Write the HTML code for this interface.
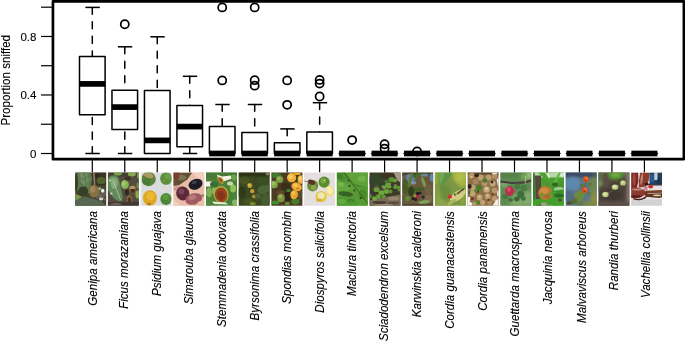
<!DOCTYPE html>
<html><head><meta charset="utf-8"><title>Proportion sniffed</title>
<style>html,body{margin:0;padding:0;background:#fff;}body{width:685px;height:341px;position:relative;overflow:hidden;font-family:"Liberation Sans",Arial,sans-serif}</style>
</head><body>
<svg width="685" height="341" viewBox="0 0 685 341" style="position:absolute;left:0;top:0">
<rect width="685" height="341" fill="#fff"/>
<defs><filter id="bl" x="-10%" y="-10%" width="120%" height="120%"><feGaussianBlur stdDeviation="0.55"/></filter><filter id="bb" x="-20%" y="-20%" width="140%" height="140%"><feGaussianBlur stdDeviation="1.5"/></filter>
<clipPath id="ic"><rect x="0" y="0" width="31.0" height="33.2"/></clipPath></defs>
<g transform="translate(75.20,172.5)" clip-path="url(#ic)"><rect x="-1" y="-1" width="33.0" height="35.2" fill="#46442c"/><g filter="url(#bl)"><path d="M2 0H15L17 6L14 20L8 25L2 18Z" fill="#5f7a50"/><path d="M4 0L12 0L14 8L11 17L6 10Z" fill="#6f8c62"/><path d="M9 0L12 20" stroke="#44603a" stroke-width="0.6" fill="none" stroke-linecap="round"/><path d="M5 5L10 8" stroke="#44603a" stroke-width="0.5" fill="none" stroke-linecap="round"/><path d="M5 11L11 14" stroke="#44603a" stroke-width="0.5" fill="none" stroke-linecap="round"/><path d="M14 3L10 6" stroke="#44603a" stroke-width="0.5" fill="none" stroke-linecap="round"/><path d="M15 9L11 12" stroke="#44603a" stroke-width="0.5" fill="none" stroke-linecap="round"/><rect x="17" y="0" width="14" height="13" fill="#393623"/><ellipse cx="26" cy="8" rx="4.5" ry="3.5" fill="#55622f"/><ellipse cx="22" cy="3" rx="2" ry="2" fill="#2c2a1c"/><path d="M18.6 0L19.4 12" stroke="#8d7b6c" stroke-width="1.6" fill="none" stroke-linecap="round"/><ellipse cx="24.5" cy="21" rx="6.5" ry="5.5" fill="#5f5f50"/><ellipse cx="27.5" cy="18.2" rx="1.7" ry="1.9" fill="#eef2ee"/><ellipse cx="24.3" cy="16" rx="1.3" ry="1.3" fill="#b9c4b4"/><ellipse cx="26" cy="26.5" rx="2.2" ry="1.4" fill="#cfd6cc"/><ellipse cx="8" cy="19" rx="5" ry="5" fill="#364026"/><ellipse cx="1" cy="10" rx="1.6" ry="9" fill="#343c22"/><path d="M0 26L12 24.5L26 28.5L31 33.2H0Z" fill="#566651"/><path d="M0 21L7 24.5L0 28Z" fill="#7c9a48"/><ellipse cx="18.6" cy="18.6" rx="5.1" ry="6.3" fill="#8a6f40"/><ellipse cx="17.6" cy="17" rx="2.6" ry="3.2" fill="#a08656"/><path d="M22 21.5L30.5 27.5" stroke="#8a7864" stroke-width="1.0" fill="none" stroke-linecap="round"/><path d="M6 30L20 28" stroke="#6f806a" stroke-width="0.5" fill="none" stroke-linecap="round"/></g></g>
<g transform="translate(107.90,172.5)" clip-path="url(#ic)"><rect x="-1" y="-1" width="33.0" height="35.2" fill="#544c40"/><g filter="url(#bl)"><rect x="0" y="0" width="31" height="4" fill="#453f32"/><ellipse cx="10" cy="1" rx="4" ry="2" fill="#7aa04a"/><ellipse cx="24" cy="1.5" rx="4" ry="2.5" fill="#86a850"/><ellipse cx="30.5" cy="3" rx="1.5" ry="3" fill="#7ea04a"/><path d="M0 6C4 1 10 2 11.5 8C12.5 16 15.5 22 14.5 28C10 31 4 25 0 17Z" fill="#63895a"/><path d="M2 7C5 3.5 9 5 10 9C10 14 8 17 4 16Z" fill="#86aa7a"/><path d="M5 8L12.5 27" stroke="#b4cc9c" stroke-width="0.8" fill="none" stroke-linecap="round"/><ellipse cx="3.5" cy="21" rx="1.2" ry="1" fill="#c8d8c0"/><ellipse cx="2" cy="8" rx="0.8" ry="0.8" fill="#dfe8d8"/><ellipse cx="17" cy="12" rx="4" ry="4.6" fill="#84b254"/><ellipse cx="16" cy="11" rx="2" ry="2.5" fill="#a3c96e"/><ellipse cx="25" cy="17" rx="3.6" ry="4.6" fill="#7d5a34"/><ellipse cx="25" cy="17.5" rx="2" ry="3" fill="#4a2e1c"/><ellipse cx="24.5" cy="15" rx="3" ry="1.5" fill="#b39a6a"/><ellipse cx="21.5" cy="27" rx="3" ry="4.2" fill="#806038"/><ellipse cx="21.5" cy="27.5" rx="1.6" ry="2.6" fill="#4e321e"/><ellipse cx="30" cy="22" rx="2.5" ry="4" fill="#86ac52"/><ellipse cx="30" cy="13" rx="1.5" ry="3" fill="#6f8a48"/><rect x="0" y="29.5" width="31" height="3.7" fill="#3f3830"/><ellipse cx="8" cy="31.5" rx="6" ry="1.2" fill="#6a6258"/><ellipse cx="19" cy="20" rx="2" ry="3" fill="#2e2822"/><ellipse cx="20" cy="6" rx="3" ry="2" fill="#3a3428"/></g></g>
<g transform="translate(140.60,172.5)" clip-path="url(#ic)"><rect x="-1" y="-1" width="33.0" height="35.2" fill="#dadbdd"/><g filter="url(#bl)"><ellipse cx="8" cy="6.5" rx="7.2" ry="7.2" fill="#5a8438"/><ellipse cx="6" cy="9" rx="4" ry="3.5" fill="#4c7c34"/><path d="M2.5 2.5C6 -1 12.5 -0.5 13 4.5C10 7 6 5.5 2.5 2.5Z" fill="#ae9866"/><ellipse cx="25.5" cy="6" rx="6" ry="6.3" fill="#5a903c"/><ellipse cx="27" cy="4" rx="3" ry="3" fill="#6a9e48"/><ellipse cx="23.5" cy="8.5" rx="0.9" ry="0.9" fill="#b08850"/><ellipse cx="9.3" cy="25.5" rx="7" ry="7.8" fill="#dfa722"/><ellipse cx="10" cy="23.5" rx="4" ry="4" fill="#ecb830"/><ellipse cx="8.5" cy="31.5" rx="2" ry="1" fill="#a87428"/><ellipse cx="25.4" cy="26.5" rx="5.7" ry="6" fill="#4c8836"/><ellipse cx="25" cy="24.5" rx="3" ry="3" fill="#5c9a42"/><ellipse cx="28" cy="27.5" rx="0.7" ry="0.7" fill="#b07840"/><rect x="0" y="0" width="1" height="33.2" fill="#e8e8ea"/></g></g>
<g transform="translate(173.30,172.5)" clip-path="url(#ic)"><rect x="-1" y="-1" width="33.0" height="35.2" fill="#e9bea8"/><g filter="url(#bl)"><path d="M0 0H19L14 7L6 12.5L0 13.5Z" fill="#5e4e34"/><ellipse cx="8" cy="5" rx="5" ry="3" fill="#7d6f50"/><ellipse cx="3" cy="3" rx="3" ry="4" fill="#7a3a30"/><path d="M19 0H31V13L24 6Z" fill="#f2cfbe"/><ellipse cx="6" cy="16" rx="6" ry="3" fill="#d29a88"/><ellipse cx="22.3" cy="11.8" rx="7.2" ry="5.2" fill="#1c1b24" transform="rotate(-20 22.3 11.8)"/><ellipse cx="21" cy="10" rx="3" ry="1.5" fill="#3d3d50" transform="rotate(-20 21 10)"/><ellipse cx="9.5" cy="21" rx="6.6" ry="7" fill="#5a2b3a" transform="rotate(-20 9.5 21)"/><ellipse cx="8" cy="19" rx="3" ry="3" fill="#7a4456"/><ellipse cx="20.5" cy="26.5" rx="8.6" ry="5.6" fill="#a25a62" transform="rotate(-15 20.5 26.5)"/><ellipse cx="19" cy="25" rx="4" ry="2.5" fill="#b87880" transform="rotate(-15 19 25)"/><ellipse cx="29.5" cy="23" rx="1" ry="1.5" fill="#6a8a40"/><path d="M0 27L8 33.2H0Z" fill="#f2d0c0"/><ellipse cx="28" cy="31" rx="4" ry="2.5" fill="#e9bfa8"/></g></g>
<g transform="translate(206.00,172.5)" clip-path="url(#ic)"><rect x="-1" y="-1" width="33.0" height="35.2" fill="#4f8036"/><g filter="url(#bl)"><rect x="0" y="0" width="31" height="6" fill="#467a38"/><path d="M0 9H6L5 14H0Z" fill="#f2f4ee"/><path d="M11 2L16 4L25 3L26 6L20 8L17 9L12 6Z" fill="#f4f3ee"/><ellipse cx="3" cy="20" rx="3" ry="5" fill="#7fb058"/><ellipse cx="27" cy="16" rx="3" ry="4" fill="#92c058"/><ellipse cx="28" cy="5" rx="3" ry="3" fill="#6aa448"/><ellipse cx="24" cy="11" rx="3" ry="2" fill="#c8dcb8"/><ellipse cx="8" cy="18" rx="2" ry="4" fill="#86b860"/><ellipse cx="8" cy="12" rx="4" ry="3" fill="#3a6e30"/><ellipse cx="23" cy="25" rx="4.5" ry="6" fill="#44803a"/><path d="M11 4C12 8 14 11 17 11.5C18 9 18 7 16 5Z" fill="#b8b040"/><path d="M12 5C13 8 15 10 16.6 10.6C17 9 16.5 7.5 15 6Z" fill="#a8401c"/><ellipse cx="15.2" cy="22" rx="7.4" ry="8.6" fill="#a8b23c" transform="rotate(-15 15.2 22)"/><ellipse cx="15.2" cy="22.3" rx="6.2" ry="7.4" fill="#9c421e" transform="rotate(-15 15.2 22.3)"/><ellipse cx="15" cy="23" rx="3.5" ry="4.5" fill="#86341a" transform="rotate(-15 15 23)"/><path d="M6 29L20 30L22 32L8 31.5Z" fill="#dfe8d2"/><rect x="0" y="26" width="4" height="7" fill="#4c8a3c"/><ellipse cx="29" cy="30" rx="3" ry="3" fill="#8ab868"/></g></g>
<g transform="translate(238.70,172.5)" clip-path="url(#ic)"><rect x="-1" y="-1" width="33.0" height="35.2" fill="#3a4820"/><g filter="url(#bl)"><rect x="0" y="0" width="31" height="4" fill="#2f3618"/><ellipse cx="6" cy="8" rx="5" ry="4" fill="#4a5624"/><ellipse cx="3" cy="20" rx="4" ry="6" fill="#2e3a18"/><ellipse cx="25" cy="17" rx="6.5" ry="4.5" fill="#4c6436" transform="rotate(-25 25 17)"/><ellipse cx="24" cy="9" rx="6" ry="4" fill="#3b4f28" transform="rotate(10 24 9)"/><ellipse cx="27" cy="27" rx="5" ry="6" fill="#445c2f" transform="rotate(30 27 27)"/><ellipse cx="18" cy="24" rx="4" ry="3" fill="#4c6238"/><ellipse cx="10" cy="29" rx="5" ry="3" fill="#48541e"/><ellipse cx="14" cy="31" rx="3" ry="1.5" fill="#7a8a28"/><path d="M12 6L19 30" stroke="#5a4a2c" stroke-width="0.8" fill="none" stroke-linecap="round"/><ellipse cx="11" cy="13" rx="2.4" ry="2.5" fill="#c9a233"/><ellipse cx="10.5" cy="12.3" rx="1.1" ry="1.1" fill="#e0c050"/><ellipse cx="13.5" cy="18.7" rx="2.1" ry="2.1" fill="#c39c30"/><ellipse cx="15" cy="24" rx="1.8" ry="1.7" fill="#a89030"/><ellipse cx="29" cy="1.5" rx="2" ry="1.5" fill="#8a7a60"/></g></g>
<g transform="translate(271.40,172.5)" clip-path="url(#ic)"><rect x="-1" y="-1" width="33.0" height="35.2" fill="#4a3c22"/><g filter="url(#bl)"><ellipse cx="5" cy="3" rx="5" ry="2.5" fill="#3f7a2e"/><ellipse cx="14" cy="14" rx="5" ry="4" fill="#3a2e1c"/><ellipse cx="16" cy="24" rx="4" ry="5" fill="#2e2618"/><ellipse cx="4" cy="30" rx="4" ry="2" fill="#3f8a30"/><ellipse cx="24" cy="29" rx="4" ry="3" fill="#4a7a2c"/><ellipse cx="17" cy="18" rx="2" ry="1.5" fill="#3c8a34"/><ellipse cx="9" cy="20" rx="4" ry="2" fill="#5e4a2c"/><ellipse cx="28" cy="22" rx="3" ry="5" fill="#5a4a30"/><ellipse cx="8.2" cy="7" rx="3.6" ry="3.6" fill="#7c9c44"/><ellipse cx="7.5" cy="6" rx="1.8" ry="1.8" fill="#98b45c"/><ellipse cx="2.6" cy="12" rx="3.8" ry="3.8" fill="#7ea646"/><ellipse cx="2" cy="11" rx="2" ry="2" fill="#9ac060"/><ellipse cx="9.6" cy="25.5" rx="3.8" ry="4.2" fill="#7a9240"/><ellipse cx="9" cy="24" rx="1.8" ry="2" fill="#9aae58"/><ellipse cx="16" cy="31" rx="2.5" ry="1.8" fill="#6a8a38"/><ellipse cx="26" cy="0.5" rx="3.5" ry="2" fill="#e9a92c"/><ellipse cx="20.2" cy="5.2" rx="4.6" ry="4.6" fill="#efb03a"/><ellipse cx="19.2" cy="4.2" rx="2.2" ry="2.2" fill="#f8cc60"/><ellipse cx="29.5" cy="7" rx="3.2" ry="4.2" fill="#f0b640"/><ellipse cx="29" cy="6" rx="1.5" ry="2" fill="#f8d878"/><ellipse cx="25.3" cy="14.2" rx="5.4" ry="4.2" fill="#eea932" transform="rotate(25 25.3 14.2)"/><ellipse cx="24" cy="13" rx="2.5" ry="1.8" fill="#f6c456" transform="rotate(25 24 13)"/><ellipse cx="26" cy="16" rx="1.2" ry="0.8" fill="#b86820"/><ellipse cx="22.7" cy="22.2" rx="3.8" ry="4.6" fill="#eaa82e" transform="rotate(10 22.7 22.2)"/><ellipse cx="22" cy="20.6" rx="1.8" ry="2" fill="#f4c250"/></g></g>
<g transform="translate(304.10,172.5)" clip-path="url(#ic)"><rect x="-1" y="-1" width="33.0" height="35.2" fill="#e3dfde"/><g filter="url(#bl)"><ellipse cx="20" cy="9.6" rx="5.6" ry="5.6" fill="#5a8a2c"/><ellipse cx="19" cy="8.2" rx="2.8" ry="2.8" fill="#74a440"/><ellipse cx="20.5" cy="8" rx="0.7" ry="0.7" fill="#dfeacc"/><ellipse cx="8.6" cy="13.2" rx="5.6" ry="5.7" fill="#6c8c3a" transform="rotate(20 8.6 13.2)"/><ellipse cx="7.4" cy="9.8" rx="3.8" ry="2.4" fill="#5a3222" transform="rotate(20 7.4 9.8)"/><ellipse cx="9.4" cy="15" rx="2.6" ry="2.6" fill="#86a64e"/><path d="M0.5 8.5L4 9.5" stroke="#4a3a2c" stroke-width="0.6" fill="none" stroke-linecap="round"/><ellipse cx="17" cy="24" rx="5.6" ry="5.6" fill="#e4c640"/><ellipse cx="17" cy="23.2" rx="3.6" ry="3.4" fill="#f0e6b4"/><ellipse cx="25.8" cy="18.6" rx="4.4" ry="5.4" fill="#eedc84" transform="rotate(-15 25.8 18.6)"/><ellipse cx="25.6" cy="18" rx="2.8" ry="3.6" fill="#f6eeb8" transform="rotate(-15 25.6 18)"/><ellipse cx="15" cy="27.5" rx="3" ry="1.5" fill="#d8b030"/></g></g>
<g transform="translate(336.80,172.5)" clip-path="url(#ic)"><rect x="-1" y="-1" width="33.0" height="35.2" fill="#5a9a36"/><g filter="url(#bl)"><path d="M0 0H9L16 10L6 9L0 5Z" fill="#4e8e32"/><path d="M10 0H31V14L22 12L15 8Z" fill="#5ea23a"/><path d="M31 14V33.2H24L20 22L22 13Z" fill="#549a32"/><path d="M0 8L8 10L16 16L8 20L0 18Z" fill="#62a63c"/><ellipse cx="9" cy="21.5" rx="7.5" ry="2.6" fill="#356428" transform="rotate(8 9 21.5)"/><path d="M0 24L10 24L20 28L22 33.2H0Z" fill="#519a30"/><ellipse cx="25" cy="6" rx="4" ry="3" fill="#70b448"/><ellipse cx="4" cy="12" rx="3" ry="2" fill="#76b84c"/><ellipse cx="5" cy="29" rx="4" ry="2.5" fill="#64aa3c"/><ellipse cx="26" cy="22" rx="4" ry="5" fill="#468a2c"/><ellipse cx="3" cy="4" rx="3" ry="3" fill="#3f8228"/><ellipse cx="14" cy="28" rx="4" ry="2" fill="#448a2a"/><path d="M7 0L31 31" stroke="#3c5c22" stroke-width="0.9" fill="none" stroke-linecap="round"/><path d="M16 12L24 14" stroke="#3a6a26" stroke-width="0.6" fill="none" stroke-linecap="round"/><ellipse cx="12.5" cy="13.5" rx="0.9" ry="0.9" fill="#2c3a1c"/><ellipse cx="17.6" cy="18" rx="1" ry="1" fill="#2c3a1c"/><ellipse cx="18" cy="21.5" rx="1.2" ry="1.2" fill="#6a8a3a"/><ellipse cx="24" cy="25.5" rx="1.1" ry="1.1" fill="#2c3a1c"/><ellipse cx="12" cy="8" rx="0.8" ry="0.8" fill="#2c3a1c"/></g></g>
<g transform="translate(369.50,172.5)" clip-path="url(#ic)"><rect x="-1" y="-1" width="33.0" height="35.2" fill="#3b3c22"/><g filter="url(#bl)"><ellipse cx="8" cy="8" rx="9" ry="7" fill="#34452a"/><ellipse cx="18" cy="3" rx="8" ry="3" fill="#3a3420"/><path d="M24 0H31V10L28 8Z" fill="#a89686"/><path d="M0 28L8 26L20 24L31 22V33.2H0Z" fill="#7a6a58"/><ellipse cx="24" cy="26" rx="6" ry="2" fill="#95836e"/><ellipse cx="10" cy="30" rx="7" ry="1.6" fill="#4c3e30"/><ellipse cx="24" cy="30.5" rx="6" ry="1.5" fill="#5a4a3c"/><ellipse cx="14" cy="32.5" rx="10" ry="1" fill="#9a8a78"/><ellipse cx="22" cy="7" rx="3" ry="2.6" fill="#5c9034"/><ellipse cx="25.5" cy="8" rx="2" ry="2" fill="#6aa03c"/><ellipse cx="17" cy="9" rx="2" ry="1.6" fill="#4e7a30"/><ellipse cx="19" cy="13" rx="3.5" ry="3" fill="#69a03a"/><ellipse cx="14" cy="15" rx="2.5" ry="2.2" fill="#6aa23e"/><ellipse cx="26" cy="14" rx="2.5" ry="2.5" fill="#629a38"/><ellipse cx="29.5" cy="16" rx="1.5" ry="3" fill="#5c9436"/><ellipse cx="7" cy="17" rx="3" ry="2.6" fill="#6a9c3c"/><ellipse cx="12" cy="20" rx="3" ry="2.6" fill="#70a840"/><ellipse cx="17" cy="19" rx="2.6" ry="2.4" fill="#6aa23c"/><ellipse cx="21" cy="19" rx="2" ry="2" fill="#5a9034"/><ellipse cx="5" cy="26" rx="2.5" ry="2.2" fill="#6ea63e"/><ellipse cx="9" cy="24" rx="2.4" ry="2.2" fill="#68a03a"/><ellipse cx="14" cy="24" rx="2.2" ry="2" fill="#5e9636"/><ellipse cx="1" cy="23" rx="1.4" ry="2.6" fill="#5a9236"/><ellipse cx="23" cy="12.5" rx="1.9" ry="1.8" fill="#4c3440"/><ellipse cx="12" cy="16.5" rx="1.8" ry="1.7" fill="#523842"/><ellipse cx="2.5" cy="20.5" rx="2" ry="2" fill="#48323c"/><ellipse cx="26.5" cy="19" rx="2" ry="1.6" fill="#4a343c"/><ellipse cx="28.5" cy="12" rx="1.4" ry="1.4" fill="#4c363e"/><ellipse cx="7.5" cy="13.5" rx="2" ry="1.2" fill="#5a4a3c"/></g></g>
<g transform="translate(402.20,172.5)" clip-path="url(#ic)"><rect x="-1" y="-1" width="33.0" height="35.2" fill="#67583c"/><g filter="url(#bl)"><rect x="0" y="0" width="31" height="3" fill="#4a4630"/><ellipse cx="8" cy="6" rx="5" ry="4.5" fill="#6586aa"/><ellipse cx="11" cy="10" rx="3" ry="2" fill="#7a90a6"/><ellipse cx="29.5" cy="5" rx="2" ry="4" fill="#6284ae"/><ellipse cx="22" cy="2.5" rx="4" ry="1.5" fill="#6c84a0"/><path d="M2 4L14 9" stroke="#6a5a44" stroke-width="0.7" fill="none" stroke-linecap="round"/><path d="M4 10L12 3" stroke="#6a5a44" stroke-width="0.6" fill="none" stroke-linecap="round"/><ellipse cx="3" cy="14" rx="3" ry="8" fill="#4a5a2c"/><ellipse cx="2" cy="27" rx="3" ry="6" fill="#6a5a3e"/><path d="M5 14L9 0L11 0L8 14Z" fill="#587a30"/><path d="M10 3L20 0L22 1L12 6Z" fill="#4a6a26"/><ellipse cx="21.5" cy="10" rx="1.6" ry="5.5" fill="#7a9a50" transform="rotate(-20 21.5 10)"/><path d="M8 17C12 15 20 14 24 16C20 19 12 20 8 17Z" fill="#3f5e24"/><ellipse cx="9" cy="19" rx="3" ry="5" fill="#2e421c"/><ellipse cx="26" cy="17" rx="4" ry="5" fill="#6e5e44"/><ellipse cx="26" cy="26" rx="4" ry="4" fill="#7a6848"/><ellipse cx="5.5" cy="26" rx="2.5" ry="2.5" fill="#5a8a3a"/><ellipse cx="15.5" cy="21" rx="1.8" ry="1.8" fill="#2a1c22"/><ellipse cx="18" cy="20.5" rx="1.5" ry="1.5" fill="#30202a"/><ellipse cx="21" cy="24.5" rx="1.6" ry="1.6" fill="#2c2030"/><ellipse cx="11" cy="26" rx="1.6" ry="1.6" fill="#241a20"/><ellipse cx="13.5" cy="27" rx="1.6" ry="1.6" fill="#2a1e26"/><ellipse cx="12.5" cy="23" rx="1.4" ry="1.6" fill="#8a9a34"/><ellipse cx="15.3" cy="24" rx="1.4" ry="1.5" fill="#b42434"/><ellipse cx="22" cy="29.5" rx="6" ry="1.8" fill="#7e9e56" transform="rotate(-8 22 29.5)"/><rect x="0" y="31.5" width="31" height="1.7" fill="#4e4430"/></g></g>
<g transform="translate(434.90,172.5)" clip-path="url(#ic)"><rect x="-1" y="-1" width="33.0" height="35.2" fill="#7c9644"/><g filter="url(#bb)"><path d="M16 -2H33V13L26 15L19 8Z" fill="#a4b240"/><ellipse cx="25" cy="5" rx="4.5" ry="4.5" fill="#b2be48"/><ellipse cx="10" cy="20" rx="6" ry="8" fill="#6a8e3a"/><ellipse cx="3" cy="24" rx="3" ry="9" fill="#86a044"/><ellipse cx="28" cy="27" rx="3" ry="6" fill="#8aa23a"/><ellipse cx="6" cy="31" rx="6" ry="2" fill="#92a64a"/><path d="M-2 -2H3L4 10L-2 15Z" fill="#90a640"/><ellipse cx="5" cy="29" rx="5" ry="3" fill="#8ea648"/></g><g filter="url(#bl)"><path d="M3 0H18L15 5L13 6L12 9L9 11L8 14L6 16L4 10Z" fill="#5f9444"/><path d="M3.5 0L10 0L8 8L5 12Z" fill="#70a650"/><ellipse cx="23" cy="23" rx="9.2" ry="4.4" fill="#d0cc84" transform="rotate(-35 23 23)"/><ellipse cx="24" cy="20" rx="3" ry="1" fill="#5a5a2c" transform="rotate(-35 24 20)"/><ellipse cx="27.5" cy="17.5" rx="2.4" ry="0.8" fill="#4a4a24" transform="rotate(-30 27.5 17.5)"/><ellipse cx="20" cy="22" rx="1" ry="1.5" fill="#6a6a30"/><ellipse cx="15" cy="24" rx="2" ry="1.9" fill="#d6202e"/><ellipse cx="14.6" cy="23.5" rx="0.8" ry="0.7" fill="#ee5560"/><ellipse cx="17" cy="29.5" rx="5" ry="1.6" fill="#a8b45c" transform="rotate(-30 17 29.5)"/></g></g>
<g transform="translate(467.60,172.5)" clip-path="url(#ic)"><rect x="-1" y="-1" width="33.0" height="35.2" fill="#8e7048"/><g filter="url(#bl)"><rect x="0" y="0" width="31" height="2" fill="#5a4630"/><ellipse cx="4" cy="3" rx="2.9" ry="2.9" fill="#b29562"/><ellipse cx="13" cy="5" rx="2.9" ry="2.9" fill="#bda174"/><ellipse cx="21" cy="5" rx="2.9" ry="2.9" fill="#ba9c6d"/><ellipse cx="27" cy="4" rx="2.6" ry="2.4" fill="#ae9162"/><ellipse cx="8" cy="9" rx="2.7" ry="2.7" fill="#a78a5b"/><ellipse cx="17" cy="11" rx="2.7" ry="2.7" fill="#b49667"/><ellipse cx="25" cy="11" rx="2.9" ry="2.9" fill="#c3a779"/><ellipse cx="5" cy="15" rx="2.9" ry="2.9" fill="#bba172"/><ellipse cx="19" cy="17" rx="3.1" ry="3.1" fill="#c7ac7e"/><ellipse cx="27" cy="18" rx="2.7" ry="2.7" fill="#b49869"/><ellipse cx="5" cy="21" rx="2.9" ry="2.9" fill="#bfa575"/><ellipse cx="12" cy="25" rx="2.9" ry="2.9" fill="#bba070"/><ellipse cx="20" cy="24" rx="2.9" ry="2.9" fill="#ba9e6b"/><ellipse cx="27" cy="26" rx="2.7" ry="2.7" fill="#b89c6d"/><ellipse cx="15" cy="30" rx="2.6" ry="2.4" fill="#bfa372"/><ellipse cx="22" cy="30" rx="2.4" ry="2.2" fill="#ab8d59"/><ellipse cx="7" cy="31" rx="2.2" ry="2" fill="#b2956b"/><ellipse cx="4" cy="4.5" rx="1.1" ry="1.1" fill="#dcc8a0"/><ellipse cx="19" cy="16" rx="1.2" ry="1.2" fill="#e4d2ac"/><ellipse cx="12" cy="24" rx="1.1" ry="1.1" fill="#dccaa0"/><ellipse cx="25" cy="10" rx="1.1" ry="1.1" fill="#e0ceaa"/><ellipse cx="20" cy="23" rx="1" ry="1" fill="#e0ceaa"/><ellipse cx="9" cy="3" rx="2.4" ry="1.6" fill="#2a2018"/><ellipse cx="2" cy="14" rx="2" ry="2.4" fill="#2c241c"/><ellipse cx="24.5" cy="9.5" rx="1.4" ry="1.6" fill="#3a2a1c"/><ellipse cx="10" cy="19" rx="1.5" ry="1.2" fill="#4a3420"/><ellipse cx="4.5" cy="26" rx="2" ry="1.6" fill="#7a3424"/><ellipse cx="25" cy="22" rx="1.6" ry="1.4" fill="#8a4430"/><ellipse cx="21" cy="27.5" rx="1.4" ry="1.2" fill="#7a3a28"/><ellipse cx="17.3" cy="8" rx="2.2" ry="2.3" fill="#4a7a2a"/><ellipse cx="11.4" cy="15" rx="2.9" ry="2.9" fill="#4a7c2a"/><ellipse cx="8.5" cy="18.5" rx="1.8" ry="1.8" fill="#508430"/><ellipse cx="10.6" cy="30" rx="2" ry="2" fill="#4c802c"/><ellipse cx="1.5" cy="20" rx="1.2" ry="2" fill="#4a6a2a"/><path d="M0 24L3 25L2 29L5 31L4 33.2H0Z" fill="#f4f2ee"/><path d="M31 5L29 7L30.5 14L31 14Z" fill="#f4f2ee"/><path d="M28 28L31 26V33.2H25Z" fill="#f2eee8"/><ellipse cx="30.5" cy="21" rx="1" ry="3" fill="#efe9e0"/><ellipse cx="27" cy="1" rx="3" ry="1" fill="#e8e0d4"/></g></g>
<g transform="translate(500.30,172.5)" clip-path="url(#ic)"><rect x="-1" y="-1" width="33.0" height="35.2" fill="#5f8a52"/><g filter="url(#bb)"><rect x="0" y="0" width="31" height="5" fill="#557f46"/><ellipse cx="25" cy="4" rx="5" ry="3" fill="#78a85c"/><ellipse cx="29" cy="2" rx="2" ry="5" fill="#9cc484"/><ellipse cx="4" cy="12" rx="4" ry="3" fill="#7aa864"/><path d="M14 22L31 18V33.2H6Z" fill="#80aa6a"/><ellipse cx="5" cy="30" rx="6" ry="3" fill="#5f8c50"/></g><g filter="url(#bl)"><path d="M0 8L12 9.5L24 9L31 7V9L24 11L12 11.5L0 10Z" fill="#4a3a3a"/><path d="M25.5 4L25 11" stroke="#c8c8a0" stroke-width="0.7" fill="none" stroke-linecap="round"/><ellipse cx="17" cy="14" rx="3.2" ry="3" fill="#4a7c40"/><ellipse cx="23.5" cy="15.5" rx="3.2" ry="3.2" fill="#4c7e42"/><ellipse cx="20.5" cy="22" rx="3.6" ry="3.4" fill="#3f6e3a"/><ellipse cx="16.5" cy="26.5" rx="2.8" ry="2.4" fill="#3a6636"/><ellipse cx="23" cy="26" rx="2.6" ry="2.2" fill="#437240"/><ellipse cx="5" cy="24" rx="3" ry="2.5" fill="#467640"/><ellipse cx="10.5" cy="27.5" rx="2.4" ry="1.8" fill="#3e6a38"/><ellipse cx="14.6" cy="18.5" rx="1.3" ry="1.0" fill="#a8506a"/><ellipse cx="9.3" cy="18.5" rx="4.2" ry="5" fill="#c02a4a"/><ellipse cx="8.6" cy="17" rx="2" ry="2.4" fill="#d84c66"/></g></g>
<g transform="translate(533.00,172.5)" clip-path="url(#ic)"><rect x="-1" y="-1" width="33.0" height="35.2" fill="#4a9c30"/><g filter="url(#bl)"><rect x="0" y="0" width="31" height="5" fill="#bcd6ac"/><path d="M2 3H8V33.2H3Z" fill="#54463a"/><ellipse cx="1" cy="16" rx="1.5" ry="17" fill="#3c7a30"/><ellipse cx="14" cy="4" rx="3" ry="3" fill="#d4e4c8"/><ellipse cx="28" cy="2" rx="3" ry="2" fill="#d8e8d0"/><path d="M5 0L12 0L20 12L17 12Z" fill="#4aa22e"/><path d="M20 10L26 0L28 0L23 11Z" fill="#62b63e"/><path d="M22 14L31 8V13L24 16Z" fill="#4a962e"/><ellipse cx="26" cy="17" rx="5" ry="2.5" fill="#9ccc94"/><path d="M14 21L22 18L31 17V20L22 22Z" fill="#3c9428"/><ellipse cx="22" cy="12" rx="3" ry="2" fill="#2e6a26"/><ellipse cx="26" cy="23" rx="5" ry="2" fill="#2c6c24"/><path d="M0 27L10 26L18 28L8 32L0 33Z" fill="#3fa02a"/><path d="M18 28L31 25V33.2H20Z" fill="#43a02c"/><ellipse cx="11" cy="31.5" rx="3" ry="1.7" fill="#a89a88"/><ellipse cx="27" cy="27.5" rx="2" ry="1.5" fill="#5a4a3a"/><ellipse cx="12.2" cy="20.6" rx="7" ry="7" fill="#bd7a32"/><ellipse cx="11" cy="18.5" rx="4" ry="3" fill="#cc9044"/><ellipse cx="9" cy="23" rx="2" ry="3" fill="#8a8a34"/><ellipse cx="14" cy="24" rx="3" ry="2" fill="#a86c2c"/><path d="M14 21.6L22 19L24 20L15 22.8Z" fill="#46a030"/><path d="M15 10L14.5 14" stroke="#7a6a3a" stroke-width="0.7" fill="none" stroke-linecap="round"/></g></g>
<g transform="translate(565.70,172.5)" clip-path="url(#ic)"><rect x="-1" y="-1" width="33.0" height="35.2" fill="#58768f"/><g filter="url(#bb)"><rect x="-2" y="-2" width="35" height="7" fill="#3a4a60"/><ellipse cx="7" cy="11" rx="8" ry="7" fill="#5f88ae"/><ellipse cx="3" cy="23" rx="5" ry="6" fill="#4f6a84"/><ellipse cx="28" cy="13" rx="5" ry="9" fill="#6f8450"/><ellipse cx="29" cy="27" rx="5" ry="8" fill="#868c40"/><ellipse cx="22" cy="32" rx="9" ry="3" fill="#7a883c"/><ellipse cx="13" cy="31" rx="5" ry="3" fill="#66784a"/><ellipse cx="30" cy="2" rx="3" ry="3" fill="#4a5a5a"/></g><g filter="url(#bl)"><path d="M1 32L18 13" stroke="#6a5a3a" stroke-width="0.9" fill="none" stroke-linecap="round"/><path d="M8 22L14 17L19 21L17 28L11 29Z" fill="#6c8a3a"/><ellipse cx="16.5" cy="12.5" rx="2.5" ry="1.6" fill="#58763c"/><ellipse cx="24" cy="12" rx="2" ry="2.5" fill="#607c3a" transform="rotate(30 24 12)"/><ellipse cx="23" cy="21" rx="2.5" ry="1.2" fill="#5a783c" transform="rotate(30 23 21)"/><ellipse cx="8" cy="29" rx="4" ry="2" fill="#5a6a36" transform="rotate(-35 8 29)"/><ellipse cx="3.5" cy="30.5" rx="2.5" ry="2" fill="#4a5430"/><path d="M19.8 10L19.3 14.5" stroke="#5a6a30" stroke-width="0.8" fill="none" stroke-linecap="round"/><ellipse cx="20.2" cy="6.8" rx="2.9" ry="3.1" fill="#de5420"/><ellipse cx="20.6" cy="6" rx="1.3" ry="1.3" fill="#f07a40"/><ellipse cx="20" cy="8" rx="0.7" ry="1" fill="#8a2c10"/><ellipse cx="19" cy="17.6" rx="2.9" ry="3.2" fill="#da5020"/><ellipse cx="19.5" cy="16.8" rx="1.3" ry="1.3" fill="#ec763c"/><ellipse cx="18.6" cy="18.6" rx="0.7" ry="1" fill="#8a2c10"/></g></g>
<g transform="translate(598.40,172.5)" clip-path="url(#ic)"><rect x="-1" y="-1" width="33.0" height="35.2" fill="#4b423a"/><g filter="url(#bb)"><path d="M-2 -2H7L2 14L-2 22Z" fill="#5e6c48"/><path d="M8 -2H27L25 5L18 8L10 6.5Z" fill="#528a32"/><ellipse cx="17" cy="2.5" rx="5" ry="2.5" fill="#6cae3c"/><path d="M26.5 -2H33V35H27.5L28.5 14Z" fill="#85756b"/><ellipse cx="8" cy="9" rx="4" ry="6" fill="#5c4e44"/><ellipse cx="14" cy="23" rx="10" ry="6" fill="#403832"/><rect x="-2" y="29" width="35" height="6" fill="#5c5048"/><ellipse cx="2" cy="11" rx="2" ry="3" fill="#789858"/></g><g filter="url(#bl)"><path d="M8 22L14 18" stroke="#8a6a5a" stroke-width="0.7" fill="none" stroke-linecap="round"/><path d="M18 14L23 12" stroke="#8a6a5a" stroke-width="0.7" fill="none" stroke-linecap="round"/><path d="M26 10L30 5" stroke="#7a6456" stroke-width="0.6" fill="none" stroke-linecap="round"/><ellipse cx="7" cy="22" rx="3.2" ry="2.7" fill="#bccc80"/><ellipse cx="6.6" cy="21.4" rx="1.6" ry="1.2" fill="#dde6ac"/><ellipse cx="16.6" cy="14.6" rx="3.3" ry="2.7" fill="#c0ce84"/><ellipse cx="16.2" cy="14" rx="1.6" ry="1.2" fill="#e0eab4"/><ellipse cx="24.6" cy="10.4" rx="2.8" ry="2.6" fill="#b8c87c"/><ellipse cx="24.2" cy="9.8" rx="1.4" ry="1.1" fill="#dae4a8"/></g></g>
<g transform="translate(631.10,172.5)" clip-path="url(#ic)"><rect x="-1" y="-1" width="33.0" height="35.2" fill="#e4e4e6"/><g filter="url(#bl)"><rect x="18.4" y="0" width="12.6" height="11.6" fill="#1d3f62"/><rect x="19" y="2" width="4" height="8" fill="#2a5a8c"/><rect x="23.2" y="0" width="3.2" height="7.6" fill="#c4d0dc"/><rect x="28.5" y="0" width="2.5" height="11.6" fill="#2a3a4a"/><rect x="26.4" y="6" width="2.2" height="5" fill="#16324e"/><rect x="17" y="11.4" width="14" height="1.6" fill="#3a3a40"/><rect x="0" y="27" width="31" height="6.2" fill="#d2d2d4"/><rect x="6.6" y="0" width="2.6" height="4.5" fill="#e6d6d0"/><path d="M0 0H7L7.4 9L5.5 16L0 16Z" fill="#7c2c24"/><ellipse cx="3" cy="7" rx="1.5" ry="6" fill="#a04a3c"/><path d="M9.2 0H18.6L17.6 8L14.7 14.5L7.6 15L8 7Z" fill="#8a3a2c"/><ellipse cx="10.6" cy="6.5" rx="1.1" ry="6" fill="#c08472" transform="rotate(8 10.6 6.5)"/><ellipse cx="15.5" cy="11.5" rx="2" ry="1.6" fill="#2a1a18"/><path d="M13 13.5L17 14.5L16 18L12.5 17.5Z" fill="#c48a92"/><ellipse cx="19.6" cy="14.3" rx="2.5" ry="1.7" fill="#d22c1c"/><path d="M0 14.5C5 14 12 15.5 15 19.5C15.5 23.5 8 26 0 25.5Z" fill="#8c3a30"/><ellipse cx="6" cy="17" rx="5" ry="1.1" fill="#c08878"/><ellipse cx="5" cy="24" rx="5.5" ry="1.3" fill="#5c1c1a"/><path d="M14.5 18.2L31 17.6V20.2L14.5 21Z" fill="#7a4022"/><path d="M14.5 21.4L31 20.8V24.8L28 25.4L14.5 24.2Z" fill="#5e3220"/><ellipse cx="26" cy="22.8" rx="4" ry="0.9" fill="#e6dea0"/><path d="M2 25.5C8 27.2 12 26.2 15 23.2L15.6 24.6C13 28 7 28.4 2 26.8Z" fill="#4a2018"/><ellipse cx="15.2" cy="21.2" rx="1.3" ry="2.2" fill="#742a20"/></g></g>
<g stroke="#000" stroke-width="1.2" fill="none">
<line x1="41" y1="153.50" x2="53" y2="153.50"/>
<line x1="41" y1="124.24" x2="53" y2="124.24"/>
<line x1="41" y1="94.98" x2="53" y2="94.98"/>
<line x1="41" y1="65.72" x2="53" y2="65.72"/>
<line x1="41" y1="36.46" x2="53" y2="36.46"/>
<line x1="41" y1="7.20" x2="53" y2="7.20"/>
<line x1="92.30" y1="160" x2="92.30" y2="172.3"/>
<line x1="124.78" y1="160" x2="124.78" y2="172.3"/>
<line x1="157.25" y1="160" x2="157.25" y2="172.3"/>
<line x1="189.73" y1="160" x2="189.73" y2="172.3"/>
<line x1="222.21" y1="160" x2="222.21" y2="172.3"/>
<line x1="254.69" y1="160" x2="254.69" y2="172.3"/>
<line x1="287.16" y1="160" x2="287.16" y2="172.3"/>
<line x1="319.64" y1="160" x2="319.64" y2="172.3"/>
<line x1="352.12" y1="160" x2="352.12" y2="172.3"/>
<line x1="384.59" y1="160" x2="384.59" y2="172.3"/>
<line x1="417.07" y1="160" x2="417.07" y2="172.3"/>
<line x1="449.55" y1="160" x2="449.55" y2="172.3"/>
<line x1="482.02" y1="160" x2="482.02" y2="172.3"/>
<line x1="514.50" y1="160" x2="514.50" y2="172.3"/>
<line x1="546.98" y1="160" x2="546.98" y2="172.3"/>
<line x1="579.45" y1="160" x2="579.45" y2="172.3"/>
<line x1="611.93" y1="160" x2="611.93" y2="172.3"/>
<line x1="644.41" y1="160" x2="644.41" y2="172.3"/>
</g>
<g stroke="#000" stroke-width="1.5" fill="none" stroke-linecap="butt">
<line x1="92.30" y1="7.40" x2="92.30" y2="56.60" stroke-dasharray="7.1 7.5" stroke-dashoffset="0.25" stroke-linecap="round"/>
<line x1="85.40" y1="7.40" x2="99.80" y2="7.40"/>
<line x1="92.30" y1="153.50" x2="92.30" y2="114.70" stroke-dasharray="7.1 7.5" stroke-dashoffset="0.25" stroke-linecap="round"/>
<line x1="85.40" y1="153.50" x2="99.80" y2="153.50"/>
<rect x="79.50" y="56.60" width="25.6" height="58.10" fill="#fff" stroke-linejoin="round"/>
<line x1="79.30" y1="83.90" x2="105.30" y2="83.90" stroke-width="5.7"/>
<line x1="124.78" y1="46.80" x2="124.78" y2="90.20" stroke-dasharray="7.1 7.5" stroke-dashoffset="0.25" stroke-linecap="round"/>
<line x1="117.88" y1="46.80" x2="132.28" y2="46.80"/>
<line x1="124.78" y1="153.50" x2="124.78" y2="129.40" stroke-dasharray="7.1 7.5" stroke-dashoffset="0.25" stroke-linecap="round"/>
<line x1="117.88" y1="153.50" x2="132.28" y2="153.50"/>
<rect x="111.98" y="90.20" width="25.6" height="39.20" fill="#fff" stroke-linejoin="round"/>
<line x1="111.78" y1="107.10" x2="137.78" y2="107.10" stroke-width="5.7"/>
<circle cx="124.78" cy="24.20" r="4.05" stroke-width="1.75"/>
<line x1="157.25" y1="36.80" x2="157.25" y2="90.60" stroke-dasharray="7.1 7.5" stroke-dashoffset="0.25" stroke-linecap="round"/>
<line x1="150.35" y1="36.80" x2="164.75" y2="36.80"/>
<rect x="144.45" y="90.60" width="25.6" height="62.90" fill="#fff" stroke-linejoin="round"/>
<line x1="144.25" y1="140.40" x2="170.25" y2="140.40" stroke-width="5.7"/>
<line x1="189.73" y1="76.30" x2="189.73" y2="105.50" stroke-dasharray="7.1 7.5" stroke-dashoffset="0.25" stroke-linecap="round"/>
<line x1="182.83" y1="76.30" x2="197.23" y2="76.30"/>
<line x1="189.73" y1="153.50" x2="189.73" y2="146.80" stroke-dasharray="7.1 7.5" stroke-dashoffset="0.25" stroke-linecap="round"/>
<line x1="182.83" y1="153.50" x2="197.23" y2="153.50"/>
<rect x="176.93" y="105.50" width="25.6" height="41.30" fill="#fff" stroke-linejoin="round"/>
<line x1="176.73" y1="126.60" x2="202.73" y2="126.60" stroke-width="5.7"/>
<line x1="222.21" y1="104.50" x2="222.21" y2="126.50" stroke-dasharray="7.1 7.5" stroke-dashoffset="0.25" stroke-linecap="round"/>
<line x1="215.31" y1="104.50" x2="229.71" y2="104.50"/>
<rect x="209.41" y="126.50" width="25.6" height="27.00" fill="#fff" stroke-linejoin="round"/>
<line x1="209.21" y1="153.50" x2="235.21" y2="153.50" stroke-width="5.7"/>
<circle cx="222.21" cy="80.40" r="4.05" stroke-width="1.75"/>
<circle cx="222.21" cy="7.40" r="4.05" stroke-width="1.75"/>
<line x1="254.69" y1="104.50" x2="254.69" y2="132.60" stroke-dasharray="7.1 7.5" stroke-dashoffset="0.25" stroke-linecap="round"/>
<line x1="247.78" y1="104.50" x2="262.19" y2="104.50"/>
<rect x="241.88" y="132.60" width="25.6" height="20.90" fill="#fff" stroke-linejoin="round"/>
<line x1="241.69" y1="153.50" x2="267.69" y2="153.50" stroke-width="5.7"/>
<circle cx="254.69" cy="80.20" r="4.05" stroke-width="1.75"/>
<circle cx="254.69" cy="85.70" r="4.05" stroke-width="1.75"/>
<circle cx="254.69" cy="7.40" r="4.05" stroke-width="1.75"/>
<line x1="287.16" y1="128.90" x2="287.16" y2="142.80" stroke-dasharray="7.1 7.5" stroke-dashoffset="0.25" stroke-linecap="round"/>
<line x1="280.26" y1="128.90" x2="294.66" y2="128.90"/>
<rect x="274.36" y="142.80" width="25.6" height="10.70" fill="#fff" stroke-linejoin="round"/>
<line x1="274.16" y1="153.50" x2="300.16" y2="153.50" stroke-width="5.7"/>
<circle cx="287.16" cy="80.40" r="4.05" stroke-width="1.75"/>
<circle cx="287.16" cy="104.80" r="4.05" stroke-width="1.75"/>
<line x1="319.64" y1="102.70" x2="319.64" y2="132.00" stroke-dasharray="7.1 7.5" stroke-dashoffset="0.25" stroke-linecap="round"/>
<line x1="312.74" y1="102.70" x2="327.14" y2="102.70"/>
<rect x="306.84" y="132.00" width="25.6" height="21.50" fill="#fff" stroke-linejoin="round"/>
<line x1="306.64" y1="153.50" x2="332.64" y2="153.50" stroke-width="5.7"/>
<circle cx="319.64" cy="79.90" r="4.05" stroke-width="1.75"/>
<circle cx="319.64" cy="83.60" r="4.05" stroke-width="1.75"/>
<circle cx="319.64" cy="96.50" r="4.05" stroke-width="1.75"/>
<line x1="339.12" y1="153.50" x2="365.12" y2="153.50" stroke-linecap="round"/>
<line x1="339.12" y1="153.50" x2="365.12" y2="153.50" stroke-width="5.7"/>
<circle cx="352.12" cy="140.10" r="4.05" stroke-width="1.75"/>
<line x1="371.59" y1="153.50" x2="397.59" y2="153.50" stroke-linecap="round"/>
<line x1="371.59" y1="153.50" x2="397.59" y2="153.50" stroke-width="5.7"/>
<circle cx="384.59" cy="144.20" r="4.05" stroke-width="1.75"/>
<circle cx="384.59" cy="148.60" r="4.05" stroke-width="1.75"/>
<line x1="404.07" y1="153.50" x2="430.07" y2="153.50" stroke-linecap="round"/>
<line x1="404.07" y1="153.50" x2="430.07" y2="153.50" stroke-width="5.7"/>
<circle cx="417.07" cy="151.50" r="4.05" stroke-width="1.75"/>
<line x1="436.55" y1="153.50" x2="462.55" y2="153.50" stroke-linecap="round"/>
<line x1="436.55" y1="153.50" x2="462.55" y2="153.50" stroke-width="5.7"/>
<line x1="469.02" y1="153.50" x2="495.02" y2="153.50" stroke-linecap="round"/>
<line x1="469.02" y1="153.50" x2="495.02" y2="153.50" stroke-width="5.7"/>
<line x1="501.50" y1="153.50" x2="527.50" y2="153.50" stroke-linecap="round"/>
<line x1="501.50" y1="153.50" x2="527.50" y2="153.50" stroke-width="5.7"/>
<line x1="533.98" y1="153.50" x2="559.98" y2="153.50" stroke-linecap="round"/>
<line x1="533.98" y1="153.50" x2="559.98" y2="153.50" stroke-width="5.7"/>
<line x1="566.45" y1="153.50" x2="592.45" y2="153.50" stroke-linecap="round"/>
<line x1="566.45" y1="153.50" x2="592.45" y2="153.50" stroke-width="5.7"/>
<line x1="598.93" y1="153.50" x2="624.93" y2="153.50" stroke-linecap="round"/>
<line x1="598.93" y1="153.50" x2="624.93" y2="153.50" stroke-width="5.7"/>
<line x1="631.41" y1="153.50" x2="657.41" y2="153.50" stroke-linecap="round"/>
<line x1="631.41" y1="153.50" x2="657.41" y2="153.50" stroke-width="5.7"/>
</g>
<rect x="52.95" y="1.3" width="630.95" height="157.9" fill="none" stroke="#000" stroke-width="2.7" stroke-linejoin="round"/>
<g font-family="'Liberation Sans', Arial, sans-serif" font-size="11.5" fill="#000" stroke="#000" stroke-width="0.12">
<text x="36.4" y="157.60" text-anchor="end">0</text>
<text x="36.4" y="99.08" text-anchor="end">0.4</text>
<text x="36.4" y="40.56" text-anchor="end">0.8</text>
<text transform="translate(9.9,80.2) rotate(-90) scale(0.892,1)" text-anchor="middle" font-size="13">Proportion sniffed</text>
<text transform="translate(96.80,211.1) rotate(-90) scale(0.891,1)" text-anchor="end" font-style="italic" font-size="13">Genipa americana</text>
<text transform="translate(128.00,211.1) rotate(-90) scale(0.891,1)" text-anchor="end" font-style="italic" font-size="13">Ficus morazaniana</text>
<text transform="translate(161.10,211.1) rotate(-90) scale(0.891,1)" text-anchor="end" font-style="italic" font-size="13">Psidium guajava</text>
<text transform="translate(193.45,211.1) rotate(-90) scale(0.891,1)" text-anchor="end" font-style="italic" font-size="13">Simarouba glauca</text>
<text transform="translate(226.40,211.1) rotate(-90) scale(0.891,1)" text-anchor="end" font-style="italic" font-size="13">Stemmadenia obovata</text>
<text transform="translate(258.60,211.1) rotate(-90) scale(0.891,1)" text-anchor="end" font-style="italic" font-size="13">Byrsonima crassifolia</text>
<text transform="translate(291.40,211.1) rotate(-90) scale(0.891,1)" text-anchor="end" font-style="italic" font-size="13">Spondias mombin</text>
<text transform="translate(323.60,211.1) rotate(-90) scale(0.891,1)" text-anchor="end" font-style="italic" font-size="13">Diospyros salicifolia</text>
<text transform="translate(356.10,211.1) rotate(-90) scale(0.891,1)" text-anchor="end" font-style="italic" font-size="13">Maclura tinctoria</text>
<text transform="translate(388.20,211.1) rotate(-90) scale(0.891,1)" text-anchor="end" font-style="italic" font-size="13">Sciadodendron excelsum</text>
<text transform="translate(421.40,211.1) rotate(-90) scale(0.891,1)" text-anchor="end" font-style="italic" font-size="13">Karwinskia calderoni</text>
<text transform="translate(453.60,211.1) rotate(-90) scale(0.891,1)" text-anchor="end" font-style="italic" font-size="13">Cordia guanacastensis</text>
<text transform="translate(486.70,211.1) rotate(-90) scale(0.891,1)" text-anchor="end" font-style="italic" font-size="13">Cordia panamensis</text>
<text transform="translate(519.20,211.1) rotate(-90) scale(0.891,1)" text-anchor="end" font-style="italic" font-size="13">Guettarda macrosperma</text>
<text transform="translate(552.10,211.1) rotate(-90) scale(0.891,1)" text-anchor="end" font-style="italic" font-size="13">Jacquinia nervosa</text>
<text transform="translate(585.95,211.1) rotate(-90) scale(0.891,1)" text-anchor="end" font-style="italic" font-size="13">Malvaviscus arboreus</text>
<text transform="translate(618.15,211.1) rotate(-90) scale(0.891,1)" text-anchor="end" font-style="italic" font-size="13">Randia thurberi</text>
<text transform="translate(649.90,211.1) rotate(-90) scale(0.891,1)" text-anchor="end" font-style="italic" font-size="13">Vachellia collinsii</text>
</g>
</svg>
</body></html>
